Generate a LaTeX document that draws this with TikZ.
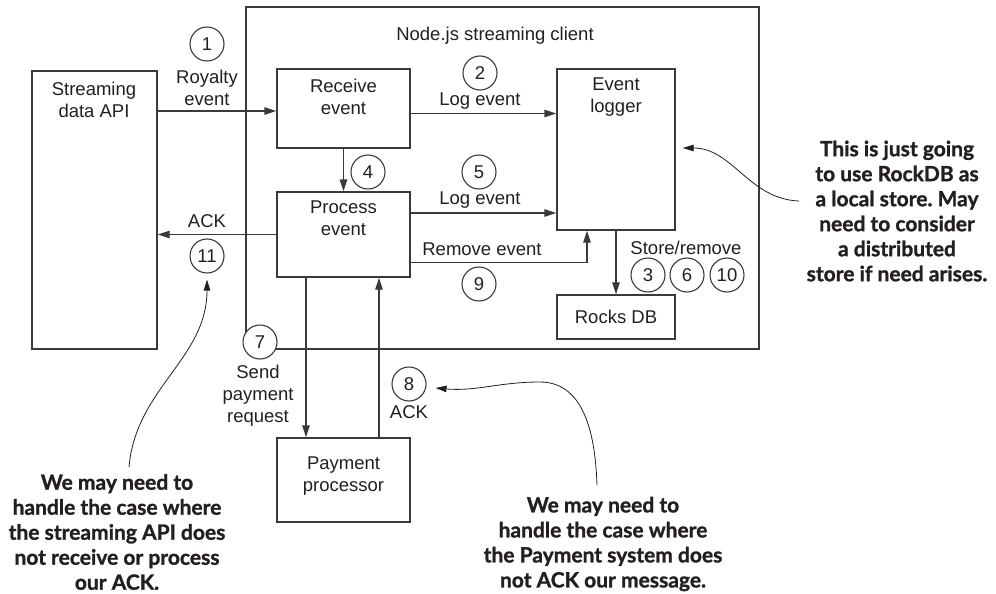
\documentclass[tikz,border=0pt]{standalone}
\usepackage{fontspec}
\setmainfont{Liberation Sans}
\newfontfamily\notefont{Lato}[BoldFeatures={FakeBold=1.2}]
\usetikzlibrary{arrows.meta}
\definecolor{ink}{HTML}{231F20}
\definecolor{edge}{HTML}{3A3A3A}
\frenchspacing
\begin{document}
\begin{tikzpicture}[x=1pt,y=-1pt,
  every node/.style={text=ink},
  box/.style={draw=edge, line width=1.3pt, inner sep=0pt},
  txt/.style={font=\fontsize{18.5}{22}\selectfont, align=center, inner sep=0pt},
  num/.style={draw=edge, line width=1.1pt, circle, fill=white, minimum size=34pt, inner sep=0pt, font=\fontsize{18.5}{22}\selectfont},
  arr/.style={draw=edge, line width=1.3pt, -{Triangle[length=12pt,width=7.5pt]}},
  note/.style={font=\notefont\bfseries\fontsize{21}{25}\selectfont\frenchspacing, align=center, inner sep=0pt},
  curve/.style={draw=ink, line width=0.8pt, -{Triangle[length=11pt,width=6.5pt]}}
]
\useasboundingbox (0,0) rectangle (996,594);
% boxes
\node[box, minimum width=513pt, minimum height=342pt] (outer) at (502.5,178) {};
\node[box, minimum width=125pt, minimum height=278pt] (api) at (94.5,210) {};
\node[box, minimum width=133pt, minimum height=79pt] (recv) at (343.5,108.5) {};
\node[box, minimum width=133pt, minimum height=85pt] (proc) at (343.5,234.5) {};
\node[box, minimum width=118pt, minimum height=161pt] (logger) at (616,149.5) {};
\node[box, minimum width=118pt, minimum height=44pt] (rocks) at (616,317) {};
\node[box, minimum width=133pt, minimum height=84pt] (pay) at (343.5,480) {};
% box texts
\node[txt] (tapi) at (94,100) {Streaming\\data API};
\node[txt] (touter) at (495,36) {Node.js streaming client};
\node[txt] (trecv) at (343.5,97) {Receive\\event};
\node[txt] (tproc) at (343.5,218.5) {Process\\event};
\node[txt] (tlog) at (616,97) {Event\\logger};
\node[txt] (trocks) at (616,317) {Rocks DB};
\node[txt] (tpay) at (343.5,476) {Payment\\processor};
% connectors
\draw[arr] ([yshift=-2.5pt]recv.west -| api.east) -- ([yshift=-2.5pt]recv.west);
\draw[arr] ([yshift=-5pt]recv.east) -- ([yshift=-5pt]recv.east -| logger.west);
\draw[arr] (recv.south) -- (proc.north);
\draw[arr] ([yshift=21.5pt]proc.east) -- ([yshift=21.5pt]proc.east -| logger.west);
\draw[arr] ([yshift=15pt]proc.south east) -| ([xshift=-29pt]logger.south);
\draw[arr] (proc.west) -- (proc.west -| api.east);
\draw[arr] (logger.south) -- (rocks.north);
\draw[arr] ([xshift=-37.5pt]proc.south) -- ([xshift=-37.5pt]pay.north);
\draw[arr] ([xshift=35.5pt]pay.north) -- ([xshift=35.5pt]proc.south);
% labels
\node[txt] (l1) at (207,88) {Royalty\\event};
\node[txt] (l2) at (480,101) {Log event};
\node[txt] (l5) at (480,200) {Log event};
\node[txt] (l9) at (482,249) {Remove event};
\node[txt] (l11) at (207,221) {ACK};
\node[txt] (lst) at (686,248) {Store/remove};
\node[txt] (l7) at (258,396) {Send\\payment\\request};
\node[txt] (l8) at (409,412) {ACK};
% numbers
\node[num] (n1) at (207,44) {1};
\node[num] (n2) at (480,73) {2};
\node[num] (n4) at (368,172) {4};
\node[num] (n5) at (479,172) {5};
\node[num] (n9) at (479,284) {9};
\node[num] (n11) at (207,256) {11};
\node[num] (n3) at (648,275) {3};
\node[num] (n6) at (687,275) {6};
\node[num] (n10) at (727,275) {10};
\node[num] (n7) at (260,342) {7};
\node[num] (n8) at (409,384) {8};
% notes
\node[note] (noteR) at (897,211) {This is just going\\to use RockDB as\\a local store. May\\need to consider\\a distributed\\store if need arises.};
\node[note] (noteL) at (117,532) {We may need to\\handle the case where\\the streaming API does\\not receive or process\\our ACK.};
\node[note] (noteB) at (603,544) {We may need to\\handle the case where\\the Payment system does\\not ACK our message.};
\coordinate (cR) at (799,201);
\coordinate (cL) at (129,467);
\coordinate (cB) at (597,485);
\draw[curve] (cR) to[out=178,in=0] ([xshift=7pt,yshift=1.5pt]logger.east);
\draw[curve] (cL) to[out=85,in=-90] ([yshift=-6pt]n11.south);
\draw[curve] (cB) to[out=92,in=0] (540,382) to[out=180,in=-5] ([xshift=9pt,yshift=-4pt]n8.east);
\end{tikzpicture}
\end{document}
